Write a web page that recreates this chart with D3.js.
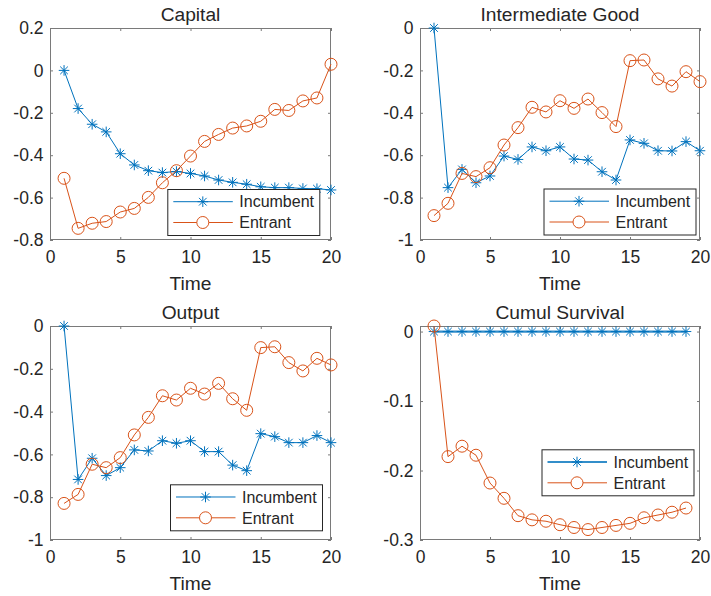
<!DOCTYPE html>
<html>
<head>
<meta charset="utf-8">
<script src="https://cdn.jsdelivr.net/npm/d3@7"></script>
<style>
  html, body { margin: 0; padding: 0; background: #fff; }
  svg text { font-family: "Liberation Sans", Arial, Helvetica, sans-serif; fill: #262626; }
</style>
</head>
<body>
<svg id="fig" width="711" height="596"></svg>
<script>
// Time periods (x values) and x tick labels
const time = [1,2,3,4,5,6,7,8,9,10,11,12,13,14,15,16,17,18,19,20];
const xTicks = [0, 5, 10, 15, 20];

// Capital
const capitalIncumbent = [0, -0.18, -0.254, -0.29, -0.393, -0.446, -0.473, -0.482, -0.477, -0.486,
  -0.498, -0.517, -0.528, -0.537, -0.549, -0.553, -0.553, -0.557, -0.558, -0.564];
const capitalEntrant = [-0.509, -0.745, -0.721, -0.713, -0.668, -0.651, -0.599, -0.53, -0.473, -0.404,
  -0.335, -0.302, -0.272, -0.262, -0.24, -0.184, -0.189, -0.144, -0.13, 0.029];
const capitalTicks = [-0.8, -0.6, -0.4, -0.2, 0, 0.2];

// Intermediate good
const intermIncumbent = [0, -0.753, -0.667, -0.73, -0.698, -0.604, -0.62, -0.561, -0.579, -0.561,
  -0.618, -0.623, -0.678, -0.717, -0.528, -0.544, -0.579, -0.58, -0.536, -0.579];
const intermEntrant = [-0.885, -0.827, -0.686, -0.701, -0.659, -0.552, -0.47, -0.374, -0.396, -0.343,
  -0.379, -0.335, -0.399, -0.465, -0.154, -0.151, -0.24, -0.274, -0.206, -0.253];
const intermTicks = [-1, -0.8, -0.6, -0.4, -0.2, 0];

// Output
const outputIncumbent = [0, -0.717, -0.618, -0.699, -0.662, -0.579, -0.584, -0.536, -0.548, -0.536,
  -0.587, -0.587, -0.65, -0.676, -0.503, -0.517, -0.545, -0.545, -0.512, -0.545];
const outputEntrant = [-0.829, -0.787, -0.646, -0.662, -0.615, -0.509, -0.427, -0.326, -0.346, -0.291,
  -0.318, -0.268, -0.34, -0.394, -0.101, -0.097, -0.171, -0.21, -0.151, -0.182];
const outputTicks = [-1, -0.8, -0.6, -0.4, -0.2, 0];

// Cumulative survival (19 periods)
const survivalIncumbent = [0, 0, 0, 0, 0, 0, 0, 0, 0, 0, 0, 0, 0, 0, 0, 0, 0, 0, 0];
const survivalEntrant = [0.008, -0.18, -0.165, -0.178, -0.218, -0.24, -0.265, -0.271, -0.273, -0.278,
  -0.282, -0.285, -0.282, -0.279, -0.276, -0.268, -0.264, -0.26, -0.254];
const survivalTicks = [-0.3, -0.2, -0.1, 0];

const seriesNames = ["Incumbent", "Entrant"];
const colors = { Incumbent: "#0072BD", Entrant: "#D95319" };

const panels = [
  { title: "Capital", inc: capitalIncumbent, ent: capitalEntrant, yDomain: [-0.8, 0.2], yTicks: capitalTicks,
    box: { l: 50, r: 331, t: 28, b: 240 }, legend: { x: 167.3, y: 189 } },
  { title: "Intermediate Good", inc: intermIncumbent, ent: intermEntrant, yDomain: [-1, 0], yTicks: intermTicks,
    box: { l: 420, r: 700, t: 28, b: 240 }, legend: { x: 543.5, y: 188.5 } },
  { title: "Output", inc: outputIncumbent, ent: outputEntrant, yDomain: [-1, 0], yTicks: outputTicks,
    box: { l: 50, r: 331, t: 326, b: 540 }, legend: { x: 170, y: 484.3 } },
  { title: "Cumul Survival", inc: survivalIncumbent, ent: survivalEntrant,
    yDomain: [-0.3, d3.max(survivalEntrant)], yTicks: survivalTicks,
    box: { l: 420, r: 700, t: 326, b: 540 }, legend: { x: 541.5, y: 449.3 }, thickInc: true }
];

const svg = d3.select("#fig");
svg.append("rect").attr("width", 711).attr("height", 596).attr("fill", "#fff");

const fmt = v => String(+v.toFixed(2));
const axisColor = "#7a7a7a";

// Asterisk marker: "+" plus "x" through the centre
function asterisk(sel, size) {
  const a = size, d = size * 0.72;
  sel.attr("d", `M${-a},0H${a}M0,${-a}V${a}M${-d},${-d}L${d},${d}M${-d},${d}L${d},${-d}`);
}

panels.forEach(p => {
  const b = p.box;
  const x = d3.scaleLinear().domain([0, 20]).range([b.l, b.r]);
  const y = d3.scaleLinear().domain(p.yDomain).range([b.b, b.t]);
  const g = svg.append("g");

  // Axes: ticks inward on all four sides
  const tickLen = 3;
  const axB = d3.axisBottom(x).tickValues(xTicks).tickSize(-tickLen).tickPadding(7).tickFormat(fmt);
  const axT = d3.axisTop(x).tickValues(xTicks).tickSize(-tickLen).tickFormat("");
  const axL = d3.axisLeft(y).tickValues(p.yTicks).tickSize(-tickLen).tickPadding(7).tickFormat(fmt);
  const axR = d3.axisRight(y).tickValues(p.yTicks).tickSize(-tickLen).tickFormat("");

  const gB = g.append("g").attr("transform", `translate(0,${b.b})`).call(axB);
  const gT = g.append("g").attr("transform", `translate(0,${b.t})`).call(axT);
  const gL = g.append("g").attr("transform", `translate(${b.l},0)`).call(axL);
  const gR = g.append("g").attr("transform", `translate(${b.r},0)`).call(axR);
  [gB, gT, gL, gR].forEach(ax => {
    ax.select(".domain").remove();
    ax.selectAll(".tick line").attr("stroke", axisColor);
    ax.selectAll("text").attr("font-size", 17.5).attr("fill", "#262626")
      .attr("font-family", '"Liberation Sans", Arial, sans-serif');
  });
  gB.selectAll("text").attr("dy", "0.75em").attr("y", 10);
  gL.selectAll("text").attr("x", -6.5);

  g.append("rect")
    .attr("x", b.l + 0.5).attr("y", b.t + 0.5)
    .attr("width", b.r - b.l - 1).attr("height", b.b - b.t - 1)
    .attr("fill", "none").attr("stroke", axisColor).attr("stroke-width", 1);

  // Title and x label
  g.append("text").attr("x", (b.l + b.r) / 2).attr("y", b.t - 7.3)
    .attr("text-anchor", "middle").attr("font-size", 19.2).text(p.title);
  g.append("text").attr("x", (b.l + b.r) / 2).attr("y", b.b + 50)
    .attr("text-anchor", "middle").attr("font-size", 19.2).text("Time");

  const line = d3.line().x((d, i) => x(time[i])).y(d => y(d));

  // Incumbent series
  g.append("path").datum(p.inc).attr("d", line).attr("fill", "none")
    .attr("stroke", colors.Incumbent).attr("stroke-width", p.thickInc ? 2.2 : 1)
    .attr("stroke-opacity", p.thickInc ? 0.8 : 1);
  g.append("g").selectAll("path").data(p.inc).join("path")
    .call(asterisk, 5.3)
    .attr("transform", (d, i) => `translate(${x(time[i])},${y(d)})`)
    .attr("fill", "none").attr("stroke", colors.Incumbent).attr("stroke-width", 1);

  // Entrant series
  g.append("path").datum(p.ent).attr("d", line).attr("fill", "none")
    .attr("stroke", colors.Entrant).attr("stroke-width", 1);
  g.append("g").selectAll("circle").data(p.ent).join("circle")
    .attr("cx", (d, i) => x(time[i])).attr("cy", d => y(d)).attr("r", 6)
    .attr("fill", "none").attr("stroke", colors.Entrant).attr("stroke-width", 1);

  // Legend
  const lg = g.append("g").attr("transform", `translate(${p.legend.x},${p.legend.y})`);
  lg.append("rect").attr("x", 0.5).attr("y", 0.5).attr("width", 152).attr("height", 46)
    .attr("fill", "#fff").attr("stroke", "#262626").attr("stroke-width", 1);
  seriesNames.forEach((name, k) => {
    const cy = 12.7 + k * 20.8;
    lg.append("line").attr("x1", 6).attr("x2", 65.5).attr("y1", cy).attr("y2", cy)
      .attr("stroke", colors[name])
      .attr("stroke-width", (name === "Incumbent" && p.thickInc) ? 2.2 : 1)
      .attr("stroke-opacity", (name === "Incumbent" && p.thickInc) ? 0.8 : 1);
    if (name === "Incumbent") {
      lg.append("path").call(asterisk, 5.3).attr("transform", `translate(35.5,${cy})`)
        .attr("fill", "none").attr("stroke", colors[name]).attr("stroke-width", 1);
    } else {
      lg.append("circle").attr("cx", 35.5).attr("cy", cy).attr("r", 6)
        .attr("fill", "#fff").attr("stroke", colors[name]).attr("stroke-width", 1);
    }
    lg.append("text").attr("x", 72).attr("y", cy).attr("dy", "0.36em")
      .attr("font-size", 16).text(name);
  });
});
</script>
</body>
</html>
